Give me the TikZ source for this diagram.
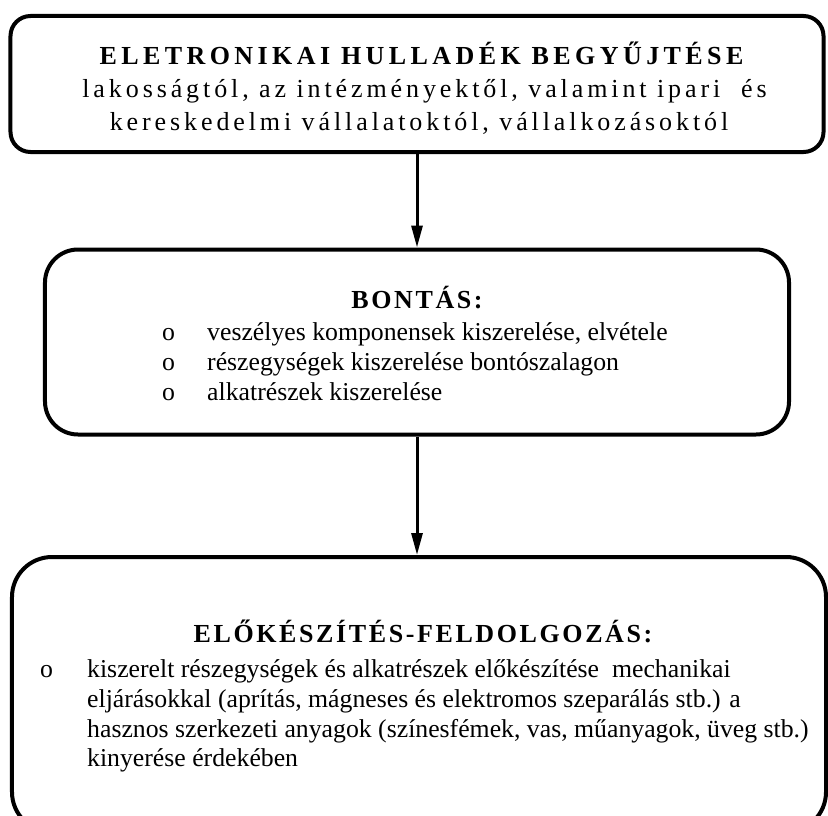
\documentclass[tikz,border=0pt]{standalone}
\usepackage{fontspec}
\setmainfont{Liberation Serif}
\newfontfamily\widefont{Liberation Serif}[LetterSpace=15]
\newfontfamily\headfont{Liberation Serif}[LetterSpace=17]
\newfontfamily\subheadfont{Liberation Serif}[LetterSpace=10]
\usetikzlibrary{positioning,arrows.meta}

\begin{document}
\begin{tikzpicture}[
    x=1bp, y=-1bp,
    box/.style={draw, line width=4bp, inner sep=0pt},
    txt/.style={anchor=base, inner sep=0pt, font=\fontsize{25.75bp}{30bp}\selectfont},
    item/.style={txt, anchor=base west},
    arr/.style={line width=3bp, -{Triangle[length=22bp, width=11bp]}}
]
    \useasboundingbox (0,0) rectangle (828,816);

    % Boxes
    \node[box, rounded corners=20bp, minimum width=813bp, minimum height=136bp] (gyujtes) at (417,84) {};
    \node[box, rounded corners=33bp, minimum width=744bp, minimum height=185bp] (bontas) at (417,342) {};
    \node[box, rounded corners=40bp, minimum width=814bp, minimum height=275bp] (feldolg) at (419,694.5) {};

    % Collection
    \node[txt, font=\fontsize{26bp}{30bp}\headfont\bfseries] (gyujtescim) at (421.5,65) {ELETRONIKAI HULLADÉK BEGYŰJTÉSE};
    \node[txt, font=\fontsize{26bp}{30bp}\widefont] (gyujtes1) at (424.5,97) {lakosságtól, az intézményektől, valamint ipari\ \ és};
    \node[txt, font=\fontsize{26bp}{30bp}\widefont] (gyujtes2) at (419,130) {kereskedelmi vállalatoktól, vállalkozásoktól};

    % Dismantling
    \node[txt, font=\fontsize{26bp}{30bp}\subheadfont\bfseries] (bontascim) at (417,308) {BONTÁS:};
    \node[item] (pont1) at (162,340) {o};
    \node[item] (pont2) at (162,370) {o};
    \node[item] (pont3) at (162,400) {o};
    \node[item] (bontas1) at (207,340) {veszélyes komponensek kiszerelése, elvétele};
    \node[item] (bontas2) at (207,370) {részegységek kiszerelése bontószalagon};
    \node[item] (bontas3) at (207,400) {alkatrészek kiszerelése};

    % Processing
    \node[txt, font=\fontsize{26bp}{30bp}\subheadfont\bfseries] (feldolgcim) at (423,642) {ELŐKÉSZÍTÉS-FELDOLGOZÁS:};
    \node[item] (pont4) at (40,677) {o};
    \node[item] (feldolg1) at (87,677) {kiszerelt részegységek és alkatrészek előkészítése\ \ mechanikai};
    \node[item] (feldolg2) at (87,707) {eljárásokkal (aprítás, mágneses és elektromos szeparálás stb.) a};
    \node[item] (feldolg3) at (87,737) {hasznos szerkezeti anyagok (színesfémek, vas, műanyagok, üveg stb.)};
    \node[item] (feldolg4) at (87,766) {kinyerése érdekében};

    % Arrows
    \draw[arr] (gyujtes.south) -- (bontas.north);
    \draw[arr] (bontas.south) -- (bontas.south |- feldolg.north);
\end{tikzpicture}
\end{document}
